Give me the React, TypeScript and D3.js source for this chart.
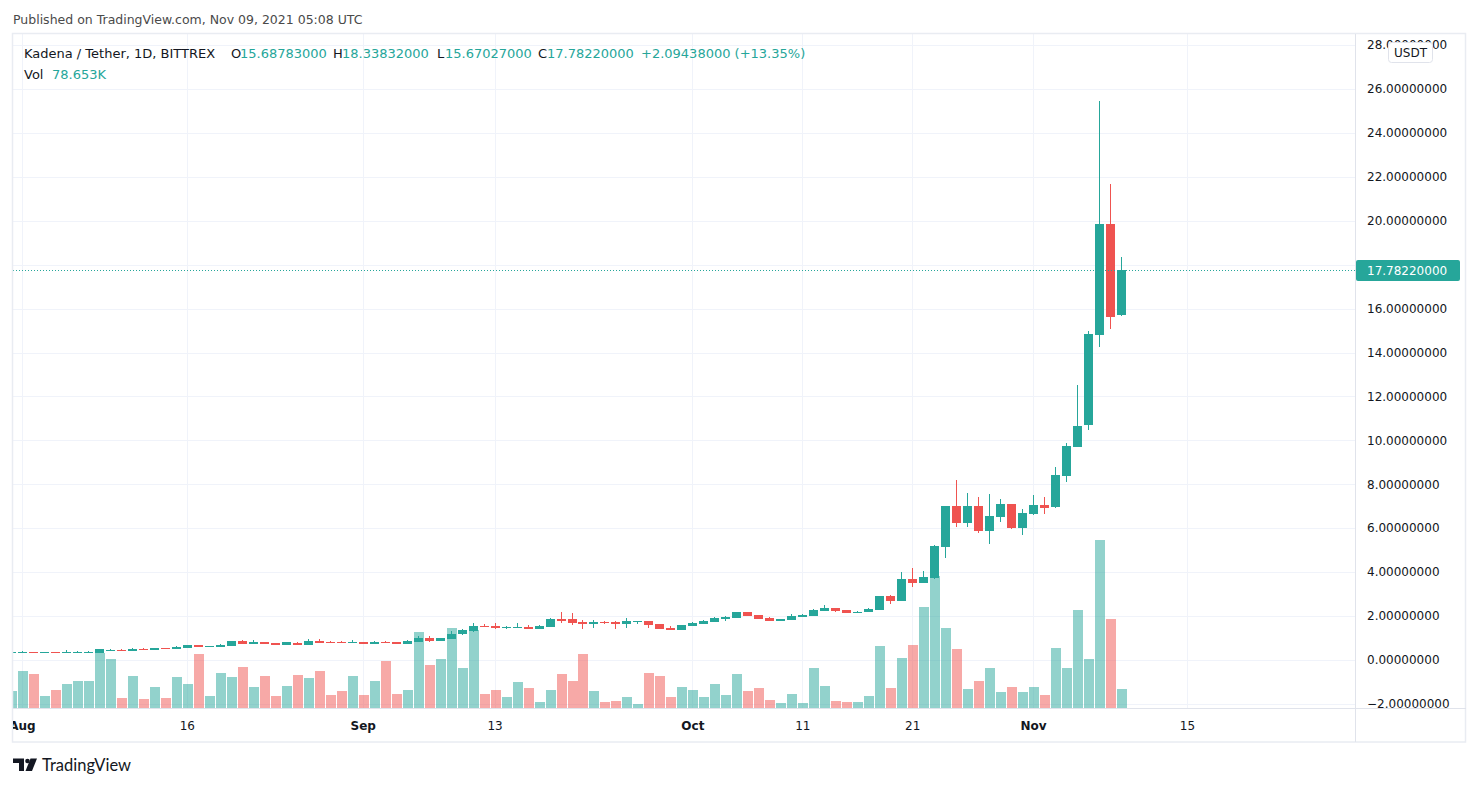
import React, { useEffect, useRef } from "react";
import * as d3 from "d3";

// KDA / USDT daily candles, first bar = 2021-07-31, last = 2021-11-09
const startDate = new Date(Date.UTC(2021, 6, 31));

const opens = [
  0.34, 0.345, 0.355, 0.345, 0.355, 0.345, 0.345, 0.35, 0.32, 0.43, 0.455, 0.43, 0.515, 0.47, 0.545, 0.5, 0.55, 0.68,
  0.61, 0.61, 0.64, 0.865, 0.745, 0.82, 0.775, 0.68, 0.775, 0.7, 0.865, 0.82, 0.82, 0.79, 0.82, 0.745, 0.82, 0.82,
  0.745, 0.835, 1.0, 0.88, 0.97, 1.169, 1.336, 1.563, 1.563, 1.472, 1.472, 1.503, 1.427, 1.503, 1.867, 1.867, 1.73,
  1.64, 1.73, 1.73, 1.64, 1.745, 1.776, 1.64, 1.457, 1.366, 1.548, 1.655, 1.73, 1.867, 1.913, 2.186, 2.049, 1.913,
  1.776, 1.821, 1.958, 2.004, 2.231, 2.368, 2.277, 2.14, 2.186, 2.28, 2.91, 2.7, 3.69, 3.52, 3.73, 5.16, 7.01, 6.25,
  7.01, 5.89, 6.53, 7.1, 6.02, 6.65, 7.06, 6.97, 8.38, 9.71, 10.72, 14.82, 19.85, 15.68783,
];
const highs = [
  0.36, 0.41, 0.37, 0.37, 0.36, 0.44, 0.4, 0.4, 0.51, 0.5, 0.5, 0.55, 0.55, 0.55, 0.55, 0.64, 0.69, 0.69, 0.65, 0.73,
  0.87, 0.91, 0.91, 0.83, 0.78, 0.83, 0.82, 0.955, 0.955, 0.865, 0.865, 0.91, 0.83, 0.865, 0.865, 0.83, 0.91, 1.093,
  1.093, 1.01, 1.32, 1.41, 1.685, 1.64, 1.685, 1.563, 1.685, 1.594, 1.594, 1.913, 2.186, 2.14, 1.82, 1.82, 1.776,
  1.776, 1.913, 1.776, 1.79, 1.65, 1.548, 1.6, 1.72, 1.8, 1.97, 2.019, 2.19, 2.19, 2.06, 1.958, 1.88, 2.095, 2.095,
  2.3, 2.505, 2.38, 2.29, 2.231, 2.37, 2.92, 2.96, 4.02, 4.19, 4.05, 5.24, 7.03, 8.2, 7.6, 7.44, 7.56, 7.33, 7.12,
  6.88, 7.51, 7.44, 8.79, 9.88, 12.52, 14.98, 25.46, 21.66, 18.33832,
];
const lows = [
  0.33, 0.34, 0.335, 0.34, 0.34, 0.34, 0.34, 0.34, 0.31, 0.42, 0.42, 0.42, 0.46, 0.46, 0.49, 0.49, 0.54, 0.6, 0.6,
  0.6, 0.63, 0.74, 0.74, 0.74, 0.69, 0.67, 0.69, 0.69, 0.78, 0.78, 0.78, 0.78, 0.74, 0.74, 0.78, 0.74, 0.74, 0.82,
  0.82, 0.87, 0.96, 1.16, 1.275, 1.488, 1.427, 1.427, 1.46, 1.42, 1.42, 1.49, 1.7, 1.594, 1.41, 1.457, 1.64, 1.41,
  1.457, 1.64, 1.457, 1.42, 1.36, 1.36, 1.54, 1.65, 1.72, 1.776, 1.9, 2.0, 1.86, 1.77, 1.77, 1.81, 1.95, 1.99, 2.22,
  2.186, 2.13, 2.13, 2.17, 2.27, 2.57, 2.68, 3.34, 3.5, 3.7, 4.66, 6.07, 6.07, 5.8, 5.3, 6.3, 5.98, 5.71, 6.6, 6.65,
  6.92, 8.11, 9.68, 10.49, 14.27, 15.09, 15.67027,
];
const closes = [
  0.35, 0.355, 0.345, 0.355, 0.345, 0.355, 0.36, 0.36, 0.5, 0.455, 0.43, 0.515, 0.47, 0.545, 0.5, 0.59, 0.68, 0.61,
  0.64, 0.7, 0.865, 0.745, 0.82, 0.745, 0.7, 0.82, 0.7, 0.865, 0.79, 0.79, 0.79, 0.82, 0.745, 0.82, 0.79, 0.745,
  0.865, 1.0, 0.88, 1.0, 1.184, 1.366, 1.548, 1.518, 1.472, 1.503, 1.503, 1.427, 1.548, 1.867, 1.776, 1.685, 1.64,
  1.73, 1.67, 1.64, 1.776, 1.776, 1.594, 1.427, 1.366, 1.594, 1.7, 1.791, 1.913, 1.973, 2.186, 2.004, 1.867, 1.776,
  1.867, 2.004, 2.049, 2.277, 2.368, 2.231, 2.14, 2.186, 2.32, 2.91, 2.7, 3.69, 3.52, 3.78, 5.19, 7.01, 6.25, 7.01,
  5.89, 6.56, 7.1, 6.01, 6.69, 7.06, 6.94, 8.42, 9.74, 10.66, 14.85, 19.85, 15.63, 17.7822,
];
// volume, thousands of KDA
const volumes = [
  69, 153, 139, 48, 73, 98, 110, 110, 226, 201, 40, 131, 36, 86, 40, 127, 98, 222, 48, 144, 127, 168, 86, 131, 48,
  90, 135, 123, 152, 52, 69, 131, 52, 110, 193, 57, 73, 313, 177, 201, 330, 164, 322, 57, 73, 44, 106, 81, 23, 73,
  139, 110, 222, 69, 23, 28, 44, 15, 144, 131, 44, 86, 73, 44, 98, 52, 139, 69, 81, 32, 19, 57, 19, 164, 90, 28, 23,
  23, 50, 257, 83, 207, 261, 418, 546, 331, 244, 79, 112, 166, 66, 87, 66, 87, 54, 248, 166, 406, 203, 696, 368,
  78.653,
];

const priceTicks = [-2, 0, 2, 4, 6, 8, 10, 12, 14, 16, 18, 20, 22, 24, 26, 28];
const timeTickDates = [
  "2021-08-01", "2021-08-16", "2021-09-01", "2021-09-13", "2021-10-01",
  "2021-10-11", "2021-10-21", "2021-11-01", "2021-11-15",
];
const timeTickLabels = ["Aug", "16", "Sep", "13", "Oct", "11", "21", "Nov", "15"];
const monthLabels = ["Aug", "Sep", "Oct", "Nov"];

const lastPrice = 17.7822;
const lastChange = 2.09438;
const lastChangePct = 13.35;

const UP = "#26a69a";
const DOWN = "#ef5350";
const FONT = "'DejaVu Sans', sans-serif";

export default function App() {
  const ref = useRef<SVGSVGElement>(null);

  useEffect(() => {
    const width = 1478;
    const height = 787;
    const pane = { left: 13, right: 1355, top: 34, bottom: 708 };

    const svg = d3.select(ref.current);
    svg.selectAll("*").remove();

    const data = opens.map((o, i) => ({
      date: d3.utcDay.offset(startDate, i),
      open: o,
      high: highs[i],
      low: lows[i],
      close: closes[i],
      vol: volumes[i],
    }));

    // ---- scales ----
    const x = d3
      .scaleUtc()
      .domain([d3.utcDay.offset(startDate, 1), d3.utcDay.offset(startDate, 101)])
      .range([22, 1121]);
    const y = d3.scaleLinear().domain([0, 26]).range([660, 89.04]);
    const yVol = d3
      .scaleLinear()
      .domain([0, d3.max(volumes) as number])
      .range([pane.bottom, pane.bottom - (pane.bottom - pane.top) * 0.25]);

    svg.append("rect").attr("width", width).attr("height", height).attr("fill", "#ffffff");

    const defs = svg.append("defs");
    defs.append("clipPath").attr("id", "pane-clip")
      .append("rect")
      .attr("x", pane.left).attr("y", pane.top)
      .attr("width", pane.right - pane.left).attr("height", pane.bottom - pane.top);
    defs.append("clipPath").attr("id", "paxis-clip")
      .append("rect")
      .attr("x", pane.right).attr("y", pane.top)
      .attr("width", 110).attr("height", pane.bottom - pane.top);
    defs.append("clipPath").attr("id", "taxis-clip")
      .append("rect")
      .attr("x", pane.left).attr("y", pane.bottom)
      .attr("width", pane.right - pane.left).attr("height", 34);

    // ---- header ----
    svg.append("text")
      .attr("x", 13).attr("y", 24)
      .attr("font-family", FONT).attr("font-size", 12.5)
      .attr("fill", "#4a4a4a")
      .text("Published on TradingView.com, Nov 09, 2021 05:08 UTC");

    // ---- grid ----
    const grid = svg.append("g").attr("clip-path", "url(#pane-clip)");
    grid.selectAll("line.h")
      .data(priceTicks)
      .join("line")
      .attr("x1", pane.left).attr("x2", pane.right)
      .attr("y1", (d) => Math.round(y(d)) + 0.5).attr("y2", (d) => Math.round(y(d)) + 0.5)
      .attr("stroke", "#f0f3fa");
    grid.selectAll("line.v")
      .data(timeTickDates)
      .join("line")
      .attr("x1", (d) => Math.round(x(new Date(d + "T00:00:00Z"))) + 0.5)
      .attr("x2", (d) => Math.round(x(new Date(d + "T00:00:00Z"))) + 0.5)
      .attr("y1", pane.top).attr("y2", pane.bottom)
      .attr("stroke", "#f0f3fa");

    // ---- volume ----
    const plot = svg.append("g").attr("clip-path", "url(#pane-clip)").attr("shape-rendering", "crispEdges");
    plot.append("g")
      .selectAll("rect")
      .data(data)
      .join("rect")
      .attr("x", (d) => Math.round(x(d.date)) - 4)
      .attr("width", 10)
      .attr("y", (d) => yVol(d.vol))
      .attr("height", (d) => pane.bottom - yVol(d.vol))
      .attr("fill", (d) => (d.close >= d.open ? UP : DOWN))
      .attr("fill-opacity", 0.5);

    // ---- candles ----
    const candles = plot.append("g")
      .selectAll("g")
      .data(data)
      .join("g")
      .attr("fill", (d) => (d.close >= d.open ? UP : DOWN));
    candles.append("rect")
      .attr("x", (d) => Math.round(x(d.date)))
      .attr("width", 1)
      .attr("y", (d) => Math.round(y(d.high)))
      .attr("height", (d) => Math.max(1, Math.round(y(d.low)) - Math.round(y(d.high))));
    candles.append("rect")
      .attr("x", (d) => Math.round(x(d.date)) - 4)
      .attr("width", 9)
      .attr("y", (d) => Math.round(y(Math.max(d.open, d.close))))
      .attr("height", (d) =>
        Math.max(1, Math.round(y(Math.min(d.open, d.close))) - Math.round(y(Math.max(d.open, d.close))))
      );

    // last price dotted line
    const yLast = Math.round(y(lastPrice)) + 0.5;
    svg.append("line")
      .attr("x1", pane.left).attr("x2", pane.right)
      .attr("y1", yLast).attr("y2", yLast)
      .attr("stroke", UP).attr("stroke-dasharray", "1 2");

    // ---- frame ----
    svg.append("rect")
      .attr("x", 12.5).attr("y", 33.5).attr("width", 1453).attr("height", 708.5)
      .attr("fill", "none").attr("stroke", "#e9ecf2").attr("stroke-width", 1.5);
    svg.append("line")
      .attr("x1", pane.right + 0.5).attr("x2", pane.right + 0.5)
      .attr("y1", 34).attr("y2", 742)
      .attr("stroke", "#e0e3eb");
    svg.append("line")
      .attr("x1", 13).attr("x2", 1466)
      .attr("y1", pane.bottom + 0.5).attr("y2", pane.bottom + 0.5)
      .attr("stroke", "#e0e3eb");

    // ---- price axis ----
    svg.append("g")
      .attr("clip-path", "url(#paxis-clip)")
      .selectAll("text")
      .data(priceTicks.filter((d) => d !== 18))
      .join("text")
      .attr("x", 1367)
      .attr("y", (d) => y(d))
      .attr("dy", "0.35em")
      .attr("font-family", FONT).attr("font-size", 12)
      .attr("fill", "#131722")
      .text((d) => d3.format(".8f")(d).replace("-", "\u2212"));

    // currency badge (sits over the top tick label, as in TradingView)
    svg.append("rect")
      .attr("x", 1388.5).attr("y", 42.5).attr("width", 44).attr("height", 20).attr("rx", 3)
      .attr("fill", "#ffffff").attr("stroke", "#e0e3eb");
    svg.append("text")
      .attr("x", 1410.5).attr("y", 53).attr("dy", "0.35em")
      .attr("text-anchor", "middle")
      .attr("font-family", FONT).attr("font-size", 12)
      .attr("fill", "#131722")
      .text("USDT");

    // last price label
    svg.append("rect")
      .attr("x", pane.right + 1).attr("y", yLast - 10.5)
      .attr("width", 104).attr("height", 21).attr("rx", 2)
      .attr("fill", UP);
    svg.append("text")
      .attr("x", 1367).attr("y", yLast).attr("dy", "0.35em")
      .attr("font-family", FONT).attr("font-size", 12)
      .attr("fill", "#ffffff")
      .text(d3.format(".8f")(lastPrice));

    // ---- time axis ----
    svg.append("g")
      .attr("clip-path", "url(#taxis-clip)")
      .selectAll("text")
      .data(timeTickDates)
      .join("text")
      .attr("x", (d) => x(new Date(d + "T00:00:00Z")) + 0.5)
      .attr("y", 726).attr("dy", "0.35em")
      .attr("text-anchor", "middle")
      .attr("font-family", FONT).attr("font-size", 12)
      .attr("font-weight", (d, i) => (monthLabels.includes(timeTickLabels[i]) ? "bold" : "normal"))
      .attr("fill", "#131722")
      .text((d, i) => timeTickLabels[i]);

    // ---- legend ----
    const legend = svg.append("g").attr("font-family", FONT).attr("font-size", 13);
    const last = data[data.length - 1];
    const fmt = d3.format(".8f");
    const row1 = [
      { x: 24, t: "Kadena / Tether, 1D, BITTREX", c: "#131722" },
      { x: 231, t: "O", c: "#131722" },
      { x: 240, t: fmt(last.open), c: UP },
      { x: 333, t: "H", c: "#131722" },
      { x: 342, t: fmt(last.high), c: UP },
      { x: 437, t: "L", c: "#131722" },
      { x: 445, t: fmt(last.low), c: UP },
      { x: 538, t: "C", c: "#131722" },
      { x: 547, t: fmt(last.close), c: UP },
      { x: 641, t: `+${fmt(lastChange)} (+${d3.format(".2f")(lastChangePct)}%)`, c: UP },
    ];
    legend.selectAll("text.r1")
      .data(row1)
      .join("text")
      .attr("x", (d) => d.x).attr("y", 53).attr("dy", "0.35em")
      .attr("fill", (d) => d.c)
      .text((d) => d.t);
    legend.append("text").attr("x", 24).attr("y", 74).attr("dy", "0.35em").attr("fill", "#131722").text("Vol");
    legend.append("text").attr("x", 52).attr("y", 74).attr("dy", "0.35em").attr("fill", UP)
      .text(d3.format(".3f")(last.vol) + "K");

    // ---- logo ----
    const logo = svg.append("g").attr("fill", "#131722");
    logo.append("path").attr("d", "M13 758.5h11v12.5h-5v-8h-6z");
    logo.append("circle").attr("cx", 27.5).attr("cy", 761).attr("r", 2.3);
    logo.append("path").attr("d", "M30.5 758.5h6.5l-5 12.5h-6.5z");
    svg.append("text")
      .attr("x", 42).attr("y", 765).attr("dy", "0.35em")
      .attr("font-family", "Lato, sans-serif").attr("font-size", 16.5)
      .attr("fill", "#131722")
      .text("TradingView");
  }, []);

  return (
    <svg
      ref={ref}
      width={1478}
      height={787}
      style={{ position: "absolute", left: 0, top: 0, display: "block" }}
    />
  );
}
